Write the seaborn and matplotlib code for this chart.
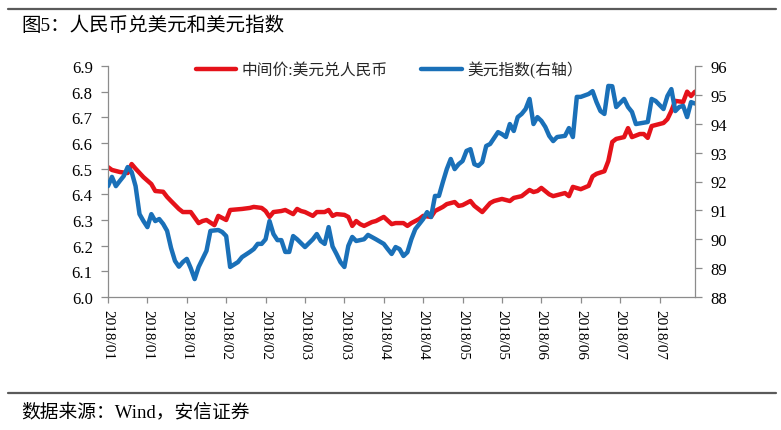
import matplotlib
matplotlib.use("Agg")
import matplotlib.pyplot as plt
from matplotlib.lines import Line2D
import seaborn as sns

# ---------------- data ----------------
tick_labels = ["2018/01", "2018/01", "2018/01", "2018/02", "2018/02", "2018/03",
               "2018/03", "2018/04", "2018/04", "2018/05", "2018/05", "2018/06",
               "2018/06", "2018/07", "2018/07"]
tick_days = [0, 10, 20, 30, 40, 50, 60, 70, 80, 90, 100, 110, 120, 130, 140]

cny_day = [0, 1, 3, 5, 6, 7, 9, 11, 12, 14, 15, 16, 18, 19, 21, 23, 24, 25, 27, 28,
           29, 30, 31, 34, 36, 37, 39, 40, 41, 42, 44, 45, 46, 47, 48, 49, 50, 52,
           53, 54, 55, 56, 57, 58, 60, 61, 62, 63, 64, 65, 67, 68, 70, 72, 73, 75,
           76, 77, 79, 80, 82, 83, 85, 86, 88, 89, 90, 92, 93, 94, 95, 97, 98, 100,
           102, 103, 105, 107, 108, 109, 110, 112, 113, 116, 117, 118, 120, 122,
           123, 124, 126, 127, 128, 129, 131, 132, 133, 135, 136, 137, 138, 141,
           142, 143, 144, 146, 147, 148, 149]
cny_val = [6.506, 6.495, 6.487, 6.483, 6.518, 6.500, 6.467, 6.440, 6.413, 6.410,
           6.390, 6.374, 6.343, 6.331, 6.331, 6.288, 6.296, 6.300, 6.280, 6.316,
           6.308, 6.300, 6.339, 6.343, 6.347, 6.351, 6.347, 6.335, 6.312, 6.331,
           6.335, 6.339, 6.331, 6.323, 6.343, 6.335, 6.331, 6.316, 6.331, 6.331,
           6.331, 6.339, 6.316, 6.323, 6.320, 6.312, 6.277, 6.296, 6.284, 6.277,
           6.292, 6.296, 6.312, 6.284, 6.288, 6.288, 6.277, 6.288, 6.304, 6.316,
           6.312, 6.335, 6.351, 6.362, 6.370, 6.355, 6.358, 6.374, 6.355, 6.343,
           6.331, 6.366, 6.374, 6.382, 6.374, 6.386, 6.393, 6.417, 6.409, 6.413,
           6.425, 6.400, 6.393, 6.405, 6.393, 6.429, 6.420, 6.433, 6.470, 6.480,
           6.490, 6.530, 6.604, 6.616, 6.623, 6.658, 6.623, 6.635, 6.635, 6.620,
           6.666, 6.678, 6.693, 6.725, 6.764, 6.760, 6.800, 6.783, 6.800]

dxy_day = [0, 1, 2, 3, 4, 5, 6, 7, 8, 9, 10, 11, 12, 13, 14, 15, 16, 17, 18, 19, 20,
           21, 22, 23, 24, 25, 26, 28, 29, 30, 31, 33, 34, 36, 37, 38, 39, 40, 41,
           42, 43, 44, 45, 46, 47, 48, 50, 52, 53, 54, 55, 56, 57, 58, 59, 60, 61,
           62, 63, 65, 66, 68, 70, 71, 72, 73, 74, 75, 76, 77, 78, 80, 81, 82, 83,
           84, 85, 86, 87, 88, 89, 90, 91, 92, 93, 94, 95, 96, 97, 99, 100, 101,
           102, 103, 104, 105, 106, 107, 108, 109, 110, 111, 112, 113, 114, 116,
           117, 118, 119, 120, 122, 123, 124, 125, 126, 127, 128, 129, 131, 132,
           133, 134, 137, 138, 139, 141, 142, 143, 144, 145, 146, 147, 148, 149]
dxy_val = [91.84, 92.16, 91.84, 92.02, 92.19, 92.50, 92.33, 91.84, 90.87, 90.63,
           90.42, 90.87, 90.63, 90.70, 90.53, 90.29, 89.70, 89.25, 89.05, 89.21,
           89.32, 89.00, 88.62, 89.04, 89.32, 89.60, 90.29, 90.32, 90.25, 90.11,
           89.04, 89.21, 89.38, 89.56, 89.66, 89.84, 89.84, 90.00, 90.63, 90.18,
           89.97, 89.97, 89.56, 89.56, 90.11, 90.00, 89.73, 90.00, 90.18, 89.94,
           89.84, 90.42, 89.75, 89.49, 89.21, 89.04, 89.77, 90.08, 89.94, 90.00,
           90.15, 90.00, 89.84, 89.66, 89.49, 89.73, 89.66, 89.42, 89.55, 90.00,
           90.35, 90.70, 90.94, 90.77, 91.50, 91.50, 91.98, 92.43, 92.78, 92.43,
           92.60, 92.71, 93.06, 93.12, 92.60, 92.54, 92.67, 93.23, 93.30, 93.71,
           93.64, 93.54, 93.99, 93.75, 94.23, 94.34, 94.51, 94.86, 93.99, 94.23,
           94.10, 93.89, 93.58, 93.40, 93.54, 93.58, 93.85, 93.54, 94.93, 94.93,
           95.03, 95.13, 94.75, 94.44, 94.34, 95.31, 95.30, 94.58, 94.86, 94.58,
           94.41, 93.99, 94.06, 94.86, 94.79, 94.51, 94.96, 95.20, 94.44, 94.58,
           94.62, 94.23, 94.75, 94.70]

cny_label = "中间价:美元兑人民币"
dxy_label = "美元指数(右轴）"
title_text = "图5：人民币兑美元和美元指数"
source_text = "数据来源：Wind，安信证券"

# ---------------- style ----------------
sns.set_theme(style="white")
plt.rcParams['font.family'] = ['Liberation Serif', 'Noto Sans CJK SC', 'DejaVu Sans']

RED = "#E5121A"
BLUE = "#1A70B8"
SPINE = "#8C8C8C"

W, H = 781, 431
fig = plt.figure(figsize=(W / 100, H / 100), dpi=100)
fig.patch.set_facecolor("white")

left, right, top, bottom = 108, 695, 67, 298
ax = fig.add_axes([left / W, 1 - bottom / H, (right - left) / W, (bottom - top) / H])
ax2 = ax.twinx()

sns.lineplot(x=cny_day, y=cny_val, ax=ax, color=RED, linewidth=3.2, legend=False)
sns.lineplot(x=dxy_day, y=dxy_val, ax=ax2, color=BLUE, linewidth=3.2, legend=False)

ax.set_xlim(0, 149)
ax.set_ylim(6.0, 6.9)
ax2.set_ylim(88, 96)
ax.set_yticks([6.0 + 0.1 * i for i in range(10)])
ax.set_yticklabels([f"{6.0 + 0.1 * i:.1f}" for i in range(10)])
ax2.set_yticks(list(range(88, 97)))
ax.set_xticks(tick_days)
ax.set_xticklabels(tick_labels, rotation=270, va="top", ha="center")
ax.set_xlabel("")
ax.set_ylabel("")
ax2.set_ylabel("")

for a in (ax, ax2):
    a.grid(False)
    a.spines['top'].set_visible(False)
    for s in ('left', 'right', 'bottom'):
        a.spines[s].set_color(SPINE)
        a.spines[s].set_linewidth(0.9)
ax.spines['right'].set_visible(False)
ax2.spines['left'].set_visible(False)
ax2.spines['bottom'].set_visible(False)

ax.tick_params(axis='y', which='both', left=True, direction='out', length=5,
               width=0.9, color=SPINE, pad=6, labelsize=12, labelcolor='black')
ax.tick_params(axis='x', which='both', bottom=True, direction='out', length=4,
               width=0.9, color=SPINE, pad=5, labelsize=11, labelcolor='black')
ax2.tick_params(axis='y', which='both', right=True, direction='out', length=5,
                width=0.9, color=SPINE, pad=6, labelsize=12, labelcolor='black')

handles = [Line2D([0], [0], color=RED, lw=3.2), Line2D([0], [0], color=BLUE, lw=3.2)]
leg = ax2.legend(handles, [cny_label, dxy_label], loc='center',
                 bbox_to_anchor=(0.479, 0.985), ncol=2, frameon=False,
                 handlelength=2.6, handletextpad=0.35, columnspacing=2.1,
                 prop={'family': ['Liberation Serif', 'Noto Sans CJK SC'], 'size': 11.3},
                 borderaxespad=0)

# title, rules and source
fig.add_artist(Line2D([8 / W, 776 / W], [1 - 10 / H, 1 - 10 / H], color="#5a5a5a", lw=1.6))
fig.add_artist(Line2D([8 / W, 776 / W], [1 - 394 / H, 1 - 394 / H], color="#5a5a5a", lw=1.6))
fig.text(21 / W, 1 - 26 / H, title_text, ha='left', va='center', fontsize=14,
         family=['Liberation Serif', 'Noto Sans CJK SC'], color='black')
fig.text(21 / W, 1 - 412 / H, source_text, ha='left', va='center', fontsize=13.5,
         family=['Liberation Serif', 'Noto Sans CJK SC'], color='black')

fig.savefig("out.png", dpi=100, facecolor="white")
